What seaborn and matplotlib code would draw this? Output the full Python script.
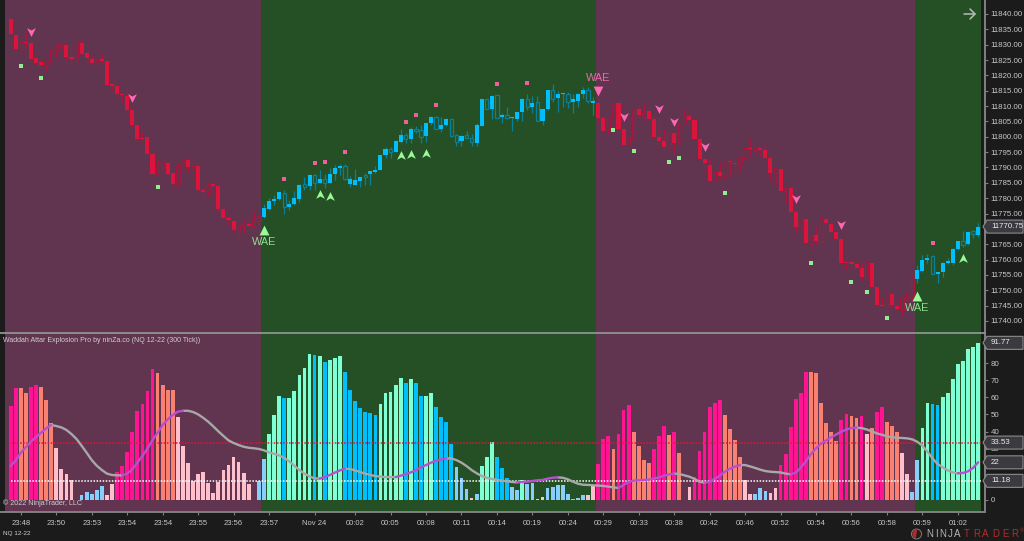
import numpy as np
import pandas as pd
import matplotlib
matplotlib.use("Agg")
import matplotlib.pyplot as plt
from matplotlib.path import Path
from matplotlib.patches import Polygon, Circle, Wedge
import seaborn as sns

PRICE_BASE = 11800
opens_pts = [
 38.4,33.0,28.6,30.9,30.5,25.6,24.4,23.3,24.8,28.2,
 29.4,29.9,25.9,25.2,30.4,27.2,25.3,24.0,25.2,24.8,
 17.0,16.6,13.9,13.3,8.8,3.7,-0.3,-0.2,-5.6,-12.2,
 -9.3,-8.5,-11.9,-15.4,-9.2,-7.7,-10.5,-9.5,-17.3,-18.1,
 -15.7,-16.1,-23.4,-26.4,-27.4,-30.6,-29.1,-28.4,-29.0,-27.3,
 -26.2,-23.5,-20.8,-20.3,-18.2,-22.8,-21.9,-20.3,-15.5,-16.0,
 -12.5,-15.1,-13.9,-15.1,-12.1,-10.3,-9.4,-15.3,-15.6,-14.4,
 -12.5,-12.2,-11.5,-10.8,-5.9,-3.9,-4.9,-1.6,0.6,-0.8,
 2.7,2.1,0.2,4.4,6.4,2.7,3.8,5.7,0.5,-1.5,
 0.6,-0.3,-2.1,3.5,12.2,9.1,13.5,6.4,7.1,6.1,
 5.8,8.1,12.2,9.6,11.2,5.2,9.0,15.1,12.5,13.8,
 13.9,11.2,11.5,13.9,15.1,11.0,11.0,6.1,2.4,6.3,
 10.9,2.4,-2.7,-0.8,9.1,7.1,8.4,5.7,0.0,-1.4,
 -3.2,1.4,-2.1,4.4,6.9,5.6,-0.7,-7.3,-9.1,-14.3,
 -11.5,-12.8,-8.0,-8.4,-8.9,-6.8,-3.7,-4.2,-3.7,-4.4,
 -6.9,-11.7,-10.6,-17.7,-16.8,-24.4,-30.0,-26.8,-34.8,-32.0,
 -34.5,-26.9,-28.4,-31.0,-33.4,-41.1,-41.1,-41.4,-42.6,-45.8,
 -41.1,-48.8,-54.7,-55.3,-51.3,-55.1,-56.4,-52.6,-52.3,-46.4,
 -43.7,-40.1,-38.7,-44.6,-43.9,-41.1,-41.2,-36.7,-34.1,-35.0,-30.8,-32.1]
closes_pts = [
 33.5,28.6,30.8,30.5,25.3,24.2,23.5,24.8,28.2,29.6,
 30.1,25.9,25.5,30.4,26.9,25.8,24.0,25.1,24.8,17.0,
 16.7,13.9,13.5,8.8,3.8,-0.8,-0.8,-5.7,-12.1,-9.1,
 -8.3,-12.1,-15.5,-9.4,-7.7,-9.8,-9.4,-17.3,-17.9,-15.5,
 -16.0,-23.4,-26.3,-27.2,-30.5,-29.2,-28.0,-29.0,-27.0,-25.7,
 -23.3,-20.8,-20.2,-18.1,-22.8,-22.0,-19.8,-15.7,-16.4,-12.5,
 -15.0,-13.8,-15.0,-12.0,-10.1,-9.4,-13.9,-13.8,-14.2,-13.1,
 -13.0,-11.2,-10.8,-5.9,-3.9,-4.9,-1.5,0.6,-0.8,2.7,
 2.0,0.0,4.4,6.4,2.7,3.9,5.7,0.2,-1.6,0.4,
 -0.5,-1.8,3.8,12.2,9.0,13.4,6.2,7.0,6.0,6.4,
 8.1,12.2,9.6,11.1,5.2,9.1,15.1,12.2,13.9,14.3,
 11.2,12.2,14.1,15.1,11.5,11.3,6.1,2.0,6.3,10.9,
 2.4,-2.7,-0.3,9.1,7.0,8.2,5.8,-0.1,-1.5,-3.3,
 1.4,-2.1,4.4,6.9,5.6,-0.7,-7.3,-8.6,-14.3,-11.4,
 -12.7,-8.3,-8.3,-8.9,-6.7,-3.7,-4.1,-3.3,-4.3,-6.9,
 -11.9,-10.3,-17.7,-16.8,-24.4,-29.4,-26.9,-34.7,-32.0,-34.0,
 -26.6,-28.0,-31.0,-33.3,-41.1,-41.2,-41.4,-42.7,-45.7,-40.9,
 -48.8,-54.7,-55.2,-51.0,-54.8,-56.0,-52.3,-51.0,-45.6,-43.5,
 -40.1,-39.4,-44.6,-44.2,-41.0,-40.8,-36.7,-34.1,-35.4,-30.9,-31.5,-29.25]
highs_pts = [
 38.4,33.0,30.8,34.2,30.5,25.6,25.6,24.8,28.5,30.4,
 30.4,31.0,29.4,31.7,31.7,27.2,26.6,25.9,27.4,25.0,
 17.0,16.6,13.9,15.8,8.8,3.7,2.0,0.0,-5.6,-7.6,
 -7.6,-8.3,-11.9,-8.6,-7.0,-7.0,-7.0,-9.5,-14.6,-14.6,
 -14.6,-16.1,-22.2,-26.4,-27.1,-29.2,-27.1,-25.5,-24.1,-25.5,
 -21.9,-20.0,-19.0,-17.9,-17.3,-20.6,-17.5,-15.5,-13.0,-12.0,
 -12.0,-10.8,-12.0,-10.3,-9.2,-8.9,-8.7,-12.8,-10.5,-13.1,
 -11.7,-11.2,-9.5,-5.8,-3.4,-3.4,-1.1,2.5,1.1,3.3,
 3.6,3.8,4.6,6.8,6.8,6.5,6.0,6.0,0.9,0.6,
 1.9,0.8,4.4,12.2,12.3,13.6,13.6,7.6,9.6,6.5,
 8.2,12.5,13.8,13.4,13.4,9.1,15.4,17.1,14.9,14.3,
 14.6,14.1,14.4,16.3,16.3,13.1,11.0,6.1,6.5,11.4,
 11.4,2.4,0.0,9.3,10.9,10.9,9.8,5.7,5.5,2.7,
 1.7,1.4,4.6,8.9,6.9,5.6,-0.7,-7.0,-6.9,-10.8,
 -8.1,-7.8,-7.3,-8.1,-6.3,-3.4,-0.5,-2.7,-3.2,-1.6,
 -6.9,-10.0,-10.6,-16.6,-16.8,-24.4,-26.6,-26.8,-31.8,-29.3,
 -26.0,-26.6,-28.4,-31.0,-33.4,-40.9,-39.6,-39.6,-41.2,-40.7,
 -41.1,-48.8,-52.6,-49.9,-51.0,-52.1,-52.1,-50.1,-45.4,-41.8,
 -38.5,-38.2,-38.5,-44.2,-40.7,-39.4,-36.3,-33.8,-30.6,-30.6,-30.4,-28.2]
lows_pts = [
 33.5,28.6,26.6,28.8,25.3,23.4,22.8,21.5,23.9,26.1,
 28.1,24.8,22.8,23.7,26.6,23.9,23.7,23.4,23.9,16.9,
 15.2,12.7,11.4,8.7,3.3,-1.9,-1.0,-5.9,-13.2,-12.2,
 -11.4,-12.4,-17.3,-16.0,-10.8,-11.9,-13.9,-17.5,-20.4,-19.5,
 -19.0,-23.8,-27.1,-28.7,-31.0,-33.8,-31.0,-30.4,-29.3,-28.7,
 -26.6,-23.8,-22.2,-20.6,-25.0,-23.8,-22.2,-21.1,-17.3,-17.3,
 -17.3,-15.2,-16.8,-15.2,-14.1,-12.5,-14.1,-16.5,-15.7,-16.3,
 -15.7,-15.7,-11.9,-10.9,-6.8,-6.8,-5.1,-2.1,-2.1,-1.9,
 1.1,-2.1,-1.6,4.0,2.5,1.7,3.6,-0.2,-3.0,-3.0,
 -0.8,-3.0,-3.0,3.5,8.9,5.7,6.2,4.4,5.7,2.0,
 5.2,5.2,8.7,7.8,5.1,3.8,8.7,11.4,8.2,9.6,
 9.3,7.8,9.6,12.8,11.1,7.1,4.9,2.0,0.9,6.0,
 2.2,-2.7,-2.7,-1.1,5.7,5.5,5.7,-0.2,-1.6,-3.4,
 -4.3,-5.2,-2.7,4.2,2.2,-0.8,-7.3,-11.7,-14.3,-14.7,
 -14.1,-14.3,-12.8,-13.2,-11.4,-7.8,-6.3,-5.6,-6.5,-7.0,
 -14.3,-15.7,-17.7,-21.7,-24.4,-31.4,-30.4,-34.7,-37.4,-35.2,
 -35.0,-28.2,-31.2,-33.4,-41.2,-43.4,-43.4,-42.8,-46.6,-46.1,
 -48.8,-54.8,-55.6,-55.6,-55.0,-56.4,-58.0,-56.2,-53.0,-47.7,
 -43.9,-41.2,-44.7,-47.7,-45.8,-41.4,-41.8,-36.9,-35.8,-35.2,-33.1,-32.5]

hist_values = [
 54.7,65.6,65.4,62.5,66.1,66.9,65.8,58.4,44.7,30.2,
 17.9,15,11.9,0,2.9,4.5,3.7,6,8.4,2.7,
 9.3,16.5,19.8,27.8,39.5,51.9,56,63.8,76.5,74.1,
 66.9,64.4,64,48.6,31.7,21.4,11.1,15.4,16.3,9.7,
 3.9,10.7,17.5,20.4,24.9,22.2,15.6,9.5,0,11.1,
 24.1,38.7,49.6,60.7,59.7,59.7,63.6,73,77,85.2,
 84.4,84.2,80.5,81.5,83,84,74.5,64,58,53.5,
 51.6,50.8,49.6,56.2,62.6,63.2,66.9,71,68.5,70.6,
 68.5,60.9,60.9,62.3,54.3,48.2,45.3,32.7,19.3,12.6,
 6.2,1,3.5,20,25.1,33.9,25.1,18.7,13,7.4,
 6,11.7,9.5,9.9,0.6,1.8,7,7.6,8.9,8.9,
 3.7,0.6,1.2,2.7,2.7,8.2,21,35.8,37.2,29.6,
 38.7,52.5,55.6,39.5,31.3,23.2,21.6,29.8,37.2,43.2,
 37.9,39.5,27.6,0,7.4,13.2,28.8,39.5,54.3,56.8,
 58.4,49.6,41.4,34.8,25.1,11.9,3.3,3.7,7.2,5.3,
 3.9,6.8,20.6,26.8,42.4,59,62.3,74.9,74.5,73.9,
 56.8,44.9,39.5,34.4,47,50,49.2,48,48.8,38.3,
 42,51.2,54.3,45.5,43,39.5,27.6,15,4.9,23.2,
 42.2,56.4,56,55.6,59.9,62.3,70.8,79.2,81.1,87.9,89.3,91.77]
hist_kinds = list(
 "PPSSPPSSSL" "LLLLBBBBBL" "LPPPPPPPPS" "SSSLLLLLLL" "LLLLLLLLLB"
 "BAAADAAAAA" "DADAAADDDD" "DDDAAAAADA" "DDAADDDDBB" "BLBAAADDDB"
 "BABBLLBBBB" "BBBBLLPPPS" "PPPSSSSPPP" "SPSSLPPPPP" "PSSSSLLBBB"
 "LLPPPPPPSS" "SSSSPPSSPL" "SPPSSSLLBB" "AADDAAAAAAAA")
signal_values = [
 19.8,23.3,27.6,30.9,34,36.8,39.3,41.8,43.8,43.2,
 42.4,40.9,38.5,35.6,31.7,27.6,23.3,20,17.5,15.4,
 14.6,14.4,14.4,15.4,17.9,21.8,25.7,30,35,39.3,
 43.8,47.1,49.6,51.6,52.1,52.1,51.4,50,48,45.7,
 43,40.1,37.4,34.8,33.3,32.1,31.1,30.5,30.2,29.8,
 29,27.8,27,26.1,24.5,22.6,20,17.5,15.4,13.8,
 12.6,12.5,13.4,14.6,16,
 17.3,18.3,18.1,17.3,16.3,15.4,14.6,14,13.6,13.4,
 13.4,13.4,14.2,15.2,16.1,17.5,19.1,20.4,21.8,23,
 23.7,24.3,24.3,23.3,21.8,19.8,17.5,15.6,14,13,
 12.3,11.7,11.3,10.9,10.5,10.3,10.5,10.7,11.1,11.5,
 11.7,12.5,13,13.2,13,12.1,10.7,9.5,8.9,8.8,
 8.6,8.4,8.2,7.8,7.4,7,8.8,10.5,11.3,11.5,
 11.7,11.9,12.5,13.2,14.2,15,15.4,15.2,
 14.4,13.6,12.3,10.7,10.1,10.7,12.3,14.2,16.5,18.3,
 19.5,20.4,20.4,19.6,18.7,17.7,16.9,16.5,16.3,16.1,
 15.4,15,16,18.9,22.8,26.8,30.2,32.9,34.8,36.6,
 38.3,39.9,41.2,42,42.2,42,41.2,40.1,38.9,38.1,
 37.2,36.6,36.4,36.2,36,35.4,34,31.7,28.2,24.3,
 21,19.1,17.3,16.1,15.6,15.8,16.7,18.7,22]
level_upper = 33.53
level_lower = 11.18

time_ticks = [2,9,16,23,30,37,44,51,60,68,75,82,89,96,103,110,117,124,131,138,145,152,159,166,173,180,187]
time_labels = ["23:48","23:50","23:53","23:54","23:54","23:55","23:56","23:57","Nov 24","00:02","00:05","00:08",
               "00:11","00:14","00:19","00:24","00:29","00:33","00:38","00:42","00:46","00:52","00:54","00:56",
               "00:58","00:59","01:02"]
regime_edges = [-1.125, 49.5, 115.5, 178.5, 191.56]
regime_names = ["down", "up", "down", "up"]

chev_dn_bar = [4,24,121,128,131,137,155,164]
chev_dn_pts = [34.2,12.7,6.3,9.1,4.8,-3.4,-20.4,-28.8]
chev_up_bar = [61,63,77,79,82,188]
chev_up_pts = [-18.6,-19.2,-5.8,-5.7,-5.3,-39.5]
dot_green_bar = [2,6,29,119,123,130,132,141,158,166,169,173]
dot_green_pts = [23.1,19.1,-16.5,2.3,-4.6,-8.2,-7,-18.2,-41.2,-47.2,-50.7,-59.1]
dot_pink_bar = [54,60,62,66,78,80,84,96,102,182]
dot_pink_pts = [-13.6,-8.5,-8.3,-5.1,4.7,7.1,10.4,17.2,17.5,-34.5]
wae_up_bar = [50,179]
wae_up_pts = [-30.4,-51.9]
wae_up_text_pts = [-34.2,-55.8]
wae_dn_bar = [116]
wae_dn_pts = [15.0]
wae_dn_text_pts = [19.1]

N = 192
for name, arr in [("o",opens_pts),("c",closes_pts),("h",highs_pts),("l",lows_pts),
                  ("v",hist_values),("k",hist_kinds),("s",signal_values)]:
    assert len(arr) == N, (name, len(arr))

BG = "#1b1b1b"; MAUVE = "#61354f"; GREEN = "#255025"
TXT = "#c6c6c6"; SPINE = "#808080"
sns.set_theme(style="dark", rc={"figure.facecolor": BG, "axes.facecolor": BG, "axes.grid": False})
plt.rcParams["font.family"] = ["Liberation Sans", "DejaVu Sans"]

W, H = 1024, 541
fig = plt.figure(figsize=(W/100, H/100), dpi=100, facecolor=BG)
def rect(x0, y0, x1, y1):
    return [x0/W, 1-y1/H, (x1-x0)/W, (y1-y0)/H]
ax_p = fig.add_axes(rect(0, 0, 985, 333))
ax_i = fig.add_axes(rect(0, 333, 985, 512))
ov = fig.add_axes([0, 0, 1, 1], zorder=20)
ov.set_xlim(0, W); ov.set_ylim(H, 0); ov.axis("off"); ov.patch.set_alpha(0)

XLIM = ((0-10.7)/5.065, (985-10.7)/5.065)
for ax in (ax_p, ax_i):
    for a, b, r in zip(regime_edges[:-1], regime_edges[1:], regime_names):
        ax.axvspan(a, b, color=MAUVE if r == "down" else GREEN, lw=0, zorder=0)

# candles
bars = np.arange(N)
O, C = PRICE_BASE+np.array(opens_pts), PRICE_BASE+np.array(closes_pts)
Hi, Lo = PRICE_BASE+np.array(highs_pts), PRICE_BASE+np.array(lows_pts)
regime = np.array([regime_names[np.searchsorted(regime_edges, i)-1] for i in bars])
is_dn = regime == "down"
solid = np.where(is_dn, "#dc143c", "#00bfff")
dim = np.where(is_dn, "#a5183f", "#0b7f96")
filled = np.where(is_dn, C < O, C >= O)
top, bot = np.maximum(O, C), np.minimum(O, C)
ax_p.vlines(bars, Lo, Hi, colors=dim, lw=0.9, zorder=2)
ax_p.bar(bars[filled], np.maximum(top-bot, .5)[filled], bottom=bot[filled], width=.8, color=solid[filled], lw=0, zorder=3)
hollow = ~filled
bg_col = np.where(is_dn, MAUVE, GREEN)
ax_p.bar(bars[hollow], (top-bot)[hollow], bottom=bot[hollow], width=.66, facecolor=bg_col[hollow],
         edgecolor=dim[hollow], lw=0.9, zorder=3)

# markers
chev_dn = Path([(-1,1),(0,.45),(1,1),(0,-1),(-1,1)])
chev_up = Path([(-1,-1),(0,-.45),(1,-1),(0,1),(-1,-1)])
def pts(a): return PRICE_BASE+np.array(a, dtype=float)
sc = dict(ax=ax_p, linewidth=0, zorder=5, legend=False)
sns.scatterplot(x=chev_dn_bar, y=pts(chev_dn_pts), marker=chev_dn, s=40, color="#ff69b4", **sc)
sns.scatterplot(x=chev_up_bar, y=pts(chev_up_pts), marker=chev_up, s=40, color="#98fb98", **sc)
sns.scatterplot(x=dot_green_bar, y=pts(dot_green_pts), marker="s", s=4.8, color="#90ee90", **sc)
sns.scatterplot(x=dot_pink_bar, y=pts(dot_pink_pts), marker="s", s=4.8, color="#ee5f9e", **sc)
sns.scatterplot(x=wae_up_bar, y=pts(wae_up_pts), marker="^", s=50, color="#98fb98", **sc)
sns.scatterplot(x=wae_dn_bar, y=pts(wae_dn_pts), marker="v", s=50, color="#ff69b4", **sc)
for b, p in zip(wae_up_bar, wae_up_text_pts):
    ax_p.text(b, PRICE_BASE+p, "WAE", color="#90dc90", fontsize=7.8, ha="center", va="center", zorder=6)
for b, p in zip(wae_dn_bar, wae_dn_text_pts):
    ax_p.text(b, PRICE_BASE+p, "WAE", color="#ec6aa8", fontsize=7.8, ha="center", va="center", zorder=6)

# histogram
palette = {"P":"#ff1493","S":"#fa8072","L":"#ffc0cb","B":"#87cefa","D":"#00bfff","A":"#7fffd4"}
hist_df = pd.DataFrame({"bar":bars,"value":hist_values,"kind":hist_kinds})
sns.barplot(data=hist_df, x="bar", y="value", hue="kind", palette=palette, dodge=False, native_scale=True,
            width=.74, saturation=1, legend=False, ax=ax_i, linewidth=0, zorder=2)
ax_i.hlines(level_upper, 0, regime_edges[-1], colors="#e0143c", linestyles=(0,(1,1)), lw=1.1, zorder=3)
ax_i.hlines(level_lower, 0, regime_edges[-1], colors="#ffffff", linestyles=(0,(1,1)), lw=1.1, zorder=3)

# signal line: purple where rising, grey otherwise
sig = np.array(signal_values, dtype=float)
rising = np.diff(sig) > 0
rows = []
seg = 0
for i, r in enumerate(rising):
    if i == 0 or r != rising[i-1]:
        seg += 1
    rows += [(i, sig[i], seg, r), (i+1, sig[i+1], seg, r)]
sig_df = pd.DataFrame(rows, columns=["bar","value","seg","rising"])
for flag, col, z in [(False, "#a8a8a8", 4), (True, "#b94fd0", 5)]:
    sns.lineplot(data=sig_df[sig_df.rising == flag], x="bar", y="value", units="seg", estimator=None,
                 color=col, lw=1.7, ax=ax_i, zorder=z, legend=False)

# axes
ax_p.set_xlim(XLIM); ax_i.set_xlim(XLIM)
ax_p.set_ylim(11840-(333-14)/3.07, 11840+14/3.07)
ax_i.set_ylim(-12/1.7125, 167/1.7125)
for ax in (ax_p, ax_i):
    for s in ["left","top","bottom","right"]:
        ax.spines[s].set_visible(False)
    ax.set_xlabel(""); ax.set_ylabel("")
    ax.yaxis.tick_right()
    ax.spines["right"].set_visible(True)
    ax.spines["right"].set_color(SPINE); ax.spines["right"].set_linewidth(1.4)
    ax.tick_params(axis="y", which="both", right=True, left=False, length=2.2, width=.8, color=SPINE,
                   labelcolor=TXT, labelsize=5.7, pad=2.0)
price_ticks = np.arange(11740, 11841, 5)
hidden_by_box = {11770, 10}
ax_p.set_yticks(price_ticks)
ax_p.set_yticklabels(["" if t in hidden_by_box else f"{t:.2f}" for t in price_ticks])
ax_p.set_xticks([])
val_ticks = np.arange(0, 81, 10)
ax_i.set_yticks(val_ticks)
ax_i.set_yticklabels(["" if t in hidden_by_box else str(t) for t in val_ticks])
ax_i.spines["bottom"].set_visible(True)
ax_i.spines["bottom"].set_color(SPINE); ax_i.spines["bottom"].set_linewidth(1.4)
ax_i.set_xticks(time_ticks); ax_i.set_xticklabels(time_labels)
ax_i.tick_params(axis="x", bottom=True, length=2.2, width=.8, color=SPINE, labelcolor=TXT, labelsize=5.5, pad=3.5)

# overlay furniture
ov.plot([0, 985], [333, 333], color="#8f948f", lw=1.3)
ov.text(3, 340, "Waddah Attar Explosion Pro by ninZa.co (NQ 12-22 (300 Tick))", color="#cfcfcf", fontsize=5.07, va="center")
ov.text(3, 503, "© 2022 NinjaTrader, LLC", color="#cfcfcf", fontsize=5.15, va="center")
ov.text(3, 534, "NQ 12-22", color="#cfcfcf", fontsize=4.6, va="center")
ov.plot([964, 975], [14, 14], color="#b8bdb8", lw=1.1)
ov.plot([970, 975, 970], [9, 14, 19], color="#b8bdb8", lw=1.1)

def value_box(ax, value, text):
    y = ov.transData.inverted().transform(ax.transData.transform((0, value)))[1]
    ov.add_patch(Polygon([(983,y),(987,y-6.5),(1023,y-6.5),(1023,y+6.5),(987,y+6.5)], closed=True,
                         fc="#3a3a40", ec="#8c8c8c", lw=.8))
    ov.text(991, y, text, color="#ececec", fontsize=5.7, va="center")
value_box(ax_p, C[-1], "11770.75")
value_box(ax_i, hist_values[-1], f"{hist_values[-1]:.2f}")
value_box(ax_i, level_upper, f"{level_upper:.2f}")
value_box(ax_i, signal_values[-1], f"{signal_values[-1]:.0f}")
value_box(ax_i, level_lower, f"{level_lower:.2f}")

# logo
ov.add_patch(Circle((916.5, 534), 5, fc="#2a1a1a", ec="#8a8a8a", lw=.6))
ov.add_patch(Wedge((916.5, 534), 4.2, 100, 280, fc="#b02a2a", lw=0))
logo_dark = ["N","I","N","J","A"]; logo_dark_x = [926,935,939,948,954]
logo_red = ["T","R","A","D","E","R"]; logo_red_x = [964,973,982,992,1002,1011]
for ch, x in zip(logo_dark, logo_dark_x):
    ov.text(x, 534, ch, color="#b4b4b4", fontsize=7, va="center")
for ch, x in zip(logo_red, logo_red_x):
    ov.text(x, 534, ch, color="#b52b2b", fontsize=7, va="center")
ov.text(1020, 531, "®", color="#b52b2b", fontsize=3.5, va="center")

fig.savefig("out.png", dpi=100, facecolor=BG)
